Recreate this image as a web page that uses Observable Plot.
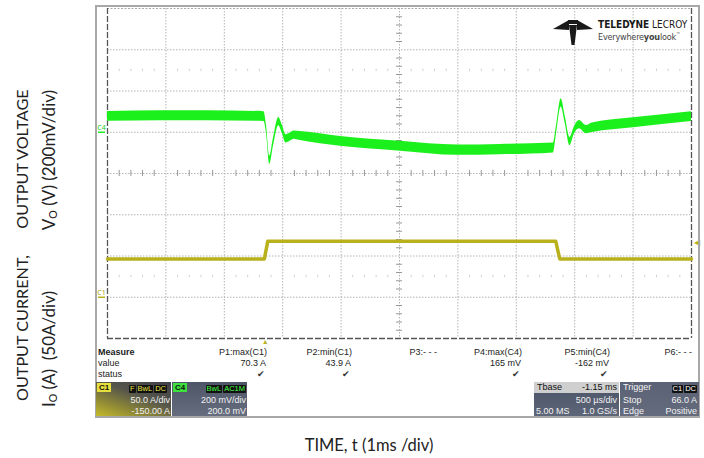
<!DOCTYPE html>
<html><head><meta charset="utf-8">
<script src="https://cdn.jsdelivr.net/npm/d3@7"></script>
<script src="https://cdn.jsdelivr.net/npm/@observablehq/plot@0.6"></script>
<style>
body{margin:0;background:#fff;}
#wrap{position:relative;width:704px;height:458px;overflow:hidden;font-family:"Liberation Sans",Arial,sans-serif;}
#chart{position:absolute;left:0;top:0;}
.a{position:absolute;white-space:nowrap;line-height:1;}
.lab{position:absolute;white-space:nowrap;font-family:Lato,"Open Sans",sans-serif;font-size:16.2px;color:#222;transform:translate(-50%,-50%) rotate(-90deg);line-height:1;}
.lab sub{font-size:10.5px;vertical-align:-2px;}
.m{font-size:9px;color:#222;}
.box{position:absolute;overflow:hidden;}
.bt{position:absolute;white-space:nowrap;font-size:9px;line-height:1;color:#f2f2f2;}
.tag{display:inline-block;background:#111;font-size:7.5px;line-height:8px;padding:0 1px;margin-left:1px;border-radius:1px;}
</style></head><body>
<div id="wrap">
<div id="chart"></div>
</div>
<script>
// ---- data ----
// time axis: 500 us/div, trigger at t = 0, Tbase -1.15 ms
const timeDomain = [-1.35, 3.65];            // ms
// C4 output voltage (AC coupled), envelope of the noisy trace, in mV
const vTime = [-1.35, -0.9, -0.5, -0.01, 0.012, 0.039, 0.07, 0.116, 0.147, 0.177, 0.207, 0.25, 0.30, 0.644, 1.158, 1.646, 2.014, 2.468, 2.494, 2.534, 2.57, 2.609, 2.647, 2.69, 2.75, 2.801, 3.152, 3.65];
const vHigh = [101, 104, 104, 100, 30, -115, -30, 72, 35, -12, -6, 6, 4, -20, -44, -62, -59, -52, 30, 162, 75, -25, 26, 57, 33, 45, 70, 100];
const vLow  = [53, 56, 56, 52, -10, -155, -70, 32, -5, -52, -46, -34, -40, -68, -92, -112, -109, -100, -10, 122, 39, -65, -10, 17, -7, -1, 22, 52];
// C1 output current, in A
const iTime = [-1.35, -0.007, 0.022, 2.488, 2.522, 3.65];
const iAmps = [46.5, 46.5, 67.8, 67.8, 46.5, 46.5];
// scope settings
const voltsPerDiv = 200;   // mV/div
const vOffsetDiv = 1;      // C4 zero position (div above centre)
const ampsPerDiv = 50;     // A/div
const iOffsetDiv = -3;     // C1 zero position (div from centre)
const msPerDiv = 0.5;
const triggerLevel = 66.0; // A
// measurement table
const measLabels = ["P1:max(C1)", "P2:min(C1)", "P3:- - -", "P4:max(C4)", "P5:min(C4)", "P6:- - -"];
const measValues = ["70.3 A", "43.9 A", "", "165 mV", "-162 mV", ""];
const measStatus = ["✔", "✔", "", "✔", "✔", ""];

// ---- chart ----
const vIdx = d3.range(vTime.length);
const iIdx = d3.range(iTime.length);
const gridT = d3.range(1, 10).map(i => timeDomain[0] + i * msPerDiv);
const gridY = d3.range(-3, 4);
const centerT = timeDomain[0] + 5 * msPerDiv;
const minorT = d3.range(1, 50).map(i => timeDomain[0] + i * msPerDiv / 5).filter((d, i) => (i + 1) % 5 !== 0);
const minorY = d3.range(-19, 20).map(i => i / 5).filter(d => Math.abs(d - Math.round(d)) > 1e-6);
const pxT = msPerDiv / 58.4; // ms per pixel (approx)
const green = "#1cf01c", olive = "#b9b11c";

const chart = Plot.plot({
  width: 704, height: 458,
  marginLeft: 107, marginRight: 13, marginTop: 8, marginBottom: 120,
  x: {domain: timeDomain, axis: null},
  y: {domain: [-4, 4], axis: null},
  style: {background: "transparent", overflow: "visible"},
  marks: [
    Plot.ruleX(gridT, {stroke: "#b4b4b4", strokeDasharray: "1.5,1.5"}),
    Plot.ruleY(gridY, {stroke: "#b4b4b4", strokeDasharray: "1.5,1.5"}),
    Plot.ruleY([4], {stroke: "#aaa", strokeDasharray: "2,1.5"}),
    Plot.ruleX(timeDomain, {stroke: "#555", strokeWidth: 1.3, strokeDasharray: "6,2"}),
    Plot.ruleY([-4], {stroke: "#555", strokeWidth: 1.3, strokeDasharray: "6,2"}),
    Plot.ruleX(minorT, {y1: -0.075, y2: 0.075, stroke: "#999"}),
    Plot.ruleY(minorY, {x1: centerT - 3 * pxT, x2: centerT + 3 * pxT, stroke: "#999"}),
    Plot.ruleX(minorT, {y1: 2.5 - 0.03, y2: 2.5 + 0.03, stroke: "#d0d0d0"}),
    Plot.ruleX(minorT, {y1: -2.5 - 0.03, y2: -2.5 + 0.03, stroke: "#d0d0d0"}),
    Plot.line(iIdx, {x: i => iTime[i], y: i => iAmps[i] / ampsPerDiv + iOffsetDiv, stroke: olive, strokeWidth: 3.5}),
    Plot.areaY(vIdx, {x: i => vTime[i], y1: i => vLow[i] / voltsPerDiv + vOffsetDiv, y2: i => vHigh[i] / voltsPerDiv + vOffsetDiv, fill: green, curve: "monotone-x"}),
    // channel markers
    Plot.ruleY([vOffsetDiv], {x1: timeDomain[0] - 9 * pxT, x2: timeDomain[0] - 2 * pxT, stroke: green, strokeWidth: 1.5}),
    Plot.text(["C4"], {x: timeDomain[0], y: vOffsetDiv, dx: -6, dy: -5, fill: "#18c818", fontSize: 7}),
    Plot.ruleY([iOffsetDiv], {x1: timeDomain[0] - 9 * pxT, x2: timeDomain[0] - 2 * pxT, stroke: olive, strokeWidth: 1.5}),
    Plot.text(["C1"], {x: timeDomain[0], y: iOffsetDiv, dx: -6, dy: -5, fill: "#a8a010", fontSize: 7}),
    // trigger markers
    Plot.text([0], {x: d => d, y: -4, dy: 3, text: () => "▲", fill: olive, fontSize: 7}),
    Plot.text([triggerLevel], {x: timeDomain[1], y: d => d / ampsPerDiv + iOffsetDiv, dx: 5, text: () => "◀", fill: olive, fontSize: 8})
  ]
});
document.getElementById("chart").appendChild(chart);

// ---- overlay text ----
const wrap = document.getElementById("wrap");
function put(html, x, y, cls, align, extra) {
  const d = document.createElement("div");
  d.className = cls;
  d.innerHTML = html;
  if (align === "right") { d.style.right = (704 - x) + "px"; } else { d.style.left = x + "px"; }
  d.style.top = y + "px";
  if (extra) Object.assign(d.style, extra);
  wrap.appendChild(d);
  return d;
}
// scope frame
put("", 95, 5, "a", "left", {width: "605px", height: "413px", border: "2px solid #a8a8a8", boxSizing: "border-box"});

// logo
put('<svg width="40" height="26" viewBox="0 0 40 26"><polygon points="0,10 16,1 16,11" fill="#1a1a1a"/><polygon points="40,10 24,1 24,11" fill="#1a1a1a"/><polygon points="15,1 25,1 25,5 15,5" fill="#1a1a1a"/><polygon points="16,6 24,6 21.5,26 18.5,26" fill="#1a1a1a"/></svg>', 553, 19, "a", "left");
put('<b>TELEDYNE</b> LECROY', 598, 20, "a", "left", {fontFamily: '"DejaVu Sans Condensed","Liberation Sans Narrow",sans-serif', fontSize: "10px", color: "#1a1a1a"});
put('Everywhere<b>you</b>look<span style="font-size:5px;vertical-align:4px">™</span>', 598, 32, "a", "left", {fontFamily: '"Liberation Sans Narrow","DejaVu Sans Condensed",sans-serif', fontSize: "9px", color: "#444", letterSpacing: "-0.2px"});

// measure table
put("<b>Measure</b>", 98, 347.5, "a m", "left");
put("value", 98, 359, "a m", "left");
put("status", 98, 370, "a m", "left");
const colRight = [267, 352, 437, 522, 610, 692];
measLabels.forEach((t, i) => {
  put(t, colRight[i], 347.5, "a m", "right");
  if (measValues[i]) put(measValues[i], colRight[i] - 1, 359, "a m", "right");
  if (measStatus[i]) put(measStatus[i], colRight[i] - 2, 369.5, "a m", "right", {color: "#333"});
});

// channel / timebase boxes
function box(x, w, bg) { return put("", x, 382, "box", "left", {width: w + "px", height: "34px", background: bg}); }
box(96, 75, "linear-gradient(20deg,#c4bb2c 0%,#8c8636 30%,#55554c 60%,#3f4048 100%)");
put('<span style="background:#e6de3c;color:#111;font-weight:bold;padding:0 2px;font-size:8px">C1</span>', 97, 383, "bt", "left");
put('<span class="tag" style="color:#e8e040">F</span><span class="tag" style="color:#e8e040">BwL</span><span class="tag" style="color:#e8e040">DC</span>', 167, 383.5, "bt", "right");
put("50.0 A/div", 170, 396, "bt", "right");
put("-150.00 A", 170, 407, "bt", "right");

box(172, 75, "linear-gradient(180deg,#4e5566 0%,#666d7e 100%)");
put('<span style="background:#3ee03e;color:#111;font-weight:bold;padding:0 2px;font-size:8px">C4</span>', 173, 383, "bt", "left");
put('<span class="tag" style="color:#44ff44">BwL</span><span class="tag" style="color:#44ff44">AC1M</span>', 246, 383.5, "bt", "right");
put("200 mV/div", 246, 396, "bt", "right");
put("200.0 mV", 246, 407, "bt", "right");

box(534, 85, "linear-gradient(180deg,#4b5366 0%,#5d6578 100%)");
put("", 534, 382, "box", "left", {width: "85px", height: "11px", background: "#cfcfcf"});
put("Tbase", 537, 383, "bt", "left", {color: "#111"});
put("-1.15 ms", 617, 383, "bt", "right", {color: "#111"});
put("500 µs/div", 617, 396, "bt", "right");
put("5.00 MS", 536, 407, "bt", "left");
put("1.0 GS/s", 617, 407, "bt", "right");

box(620, 79, "linear-gradient(180deg,#5b6275 0%,#646b7d 100%)");
put("Trigger", 623, 383, "bt", "left");
put('<span class="tag" style="color:#fff">C1</span><span class="tag" style="color:#fff">DC</span>', 697, 383.5, "bt", "right");
put("Stop", 623, 396, "bt", "left");
put("66.0 A", 697, 396, "bt", "right");
put("Edge", 623, 407, "bt", "left");
put("Positive", 697, 407, "bt", "right");

// axis titles
put("OUTPUT VOLTAGE", 22, 159, "lab", "left");
put("V<sub>O</sub> (V) (200mV/div)", 49, 160, "lab", "left", {fontSize: "17px"});
put("OUTPUT CURRENT,", 22, 328, "lab", "left");
put("I<sub>O</sub> (A)&nbsp;&nbsp;(50A/div)", 49, 349, "lab", "left", {fontSize: "17px"});
put("TIME, t (1ms /div)", 369, 445, "a", "left", {fontFamily: 'Lato,"Open Sans",sans-serif', fontSize: "16.5px", color: "#222", transform: "translate(-50%,-50%)"});
</script>
</body></html>
